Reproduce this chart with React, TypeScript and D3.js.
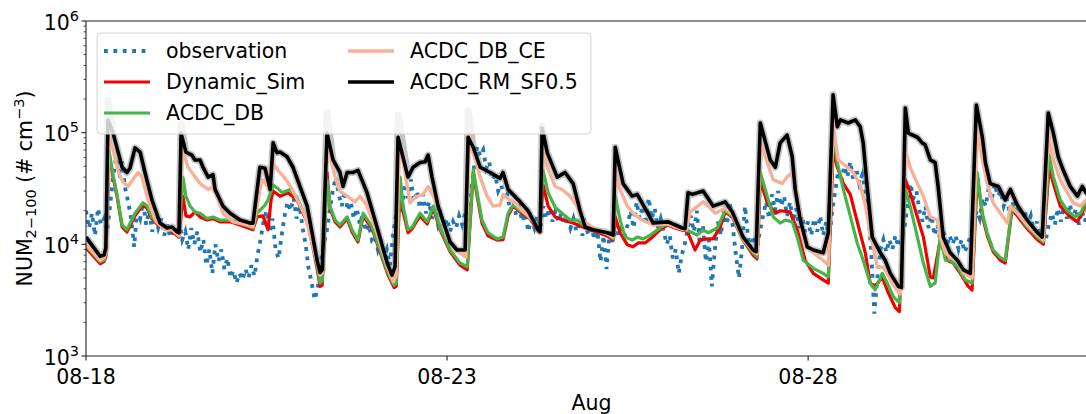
import React from 'react';
import * as d3 from 'd3';

const WIDTH = 1086;
const HEIGHT = 414;
const left = 86;
const top = 21;
const plotW = 1011; // 14 days
const plotH = 335;

// time axis: hours since 08-18 00:00
const xTickHours = [0, 120, 240];
const xTickLabels = ['08-18', '08-23', '08-28'];
const yTickExps = [3, 4, 5, 6];

// hourly observation (# cm-3)
const observation = [
  20e3, 14e3, 19e3, 12e3, 21e3, 15e3, 17e3, 13e3, 22e3, 40e3, 60e3, 45e3, 55e3, 32e3, 24e3, 17e3, 9.5e3, 20e3, 17e3, 24e3, 15e3, 20e3, 13e3, 18e3,
  14e3, 17e3, 12e3, 15e3, 11.5e3, 14e3, 12e3, 16e3, 11e3, 13e3, 9e3, 14e3, 10e3, 13e3, 8.5e3, 11e3, 6.5e3, 9e3, 5.5e3, 10e3, 7e3, 9e3, 6e3, 7.5e3,
  5e3, 5.8e3, 4.5e3, 5.5e3, 4.8e3, 6e3, 5e3, 6.5e3, 5.2e3, 8e3, 11e3, 16e3, 20e3, 13e3, 17e3, 9e3, 7.5e3, 12e3, 18e3, 24e3, 20e3, 26e3, 17e3, 22e3,
  14e3, 10e3, 6e3, 4.5e3, 3.2e3, 4e3, 7e3, 10e3, 13e3, 20e3, 30e3, 40e3, 28e3, 22e3, 30e3, 20e3, 24e3, 17e3, 21e3, 15e3, 19e3, 13e3, 15e3, 11e3,
  12e3, 9e3, 11e3, 7.5e3, 9e3, 6.5e3, 12e3, 18e3, 25e3, 19e3, 35e3, 26e3, 38e3, 24e3, 30e3, 21e3, 28e3, 19e3, 24e3, 17e3, 21e3, 15e3, 18e3, 14e3,
  17e3, 13e3, 16e3, 14e3, 18e3, 15e3, 19e3, 16e3, 30e3, 50e3, 75e3, 62e3, 70e3, 48e3, 55e3, 38e3, 42e3, 30e3, 34e3, 25e3, 28e3, 20e3, 24e3, 18e3,
  21e3, 16e3, 19e3, 13e3, 17e3, 14e3, 18e3, 14e3, 22e3, 17e3, 21e3, 16e3, 20e3, 16e3, 19e3, 15e3, 18e3, 14e3, 17e3, 13e3, 16e3, 12e3, 15e3, 12e3,
  14e3, 11e3, 13e3, 7e3, 12e3, 6e3, 13e3, 10.5e3, 15e3, 12e3, 14e3, 12e3, 15e3, 20e3, 14e3, 24e3, 17e3, 22e3, 15e3, 26e3, 17e3, 21e3, 14e3, 17e3,
  13e3, 10e3, 12e3, 7.5e3, 9e3, 5.5e3, 8e3, 10e3, 14e3, 18e3, 13e3, 20e3, 10e3, 15e3, 7e3, 11e3, 4.2e3, 9e3, 16e3, 12e3, 20e3, 15e3, 23e3, 14e3,
  8e3, 5e3, 9e3, 22e3, 12e3, 9e3, 12e3, 9.5e3, 13e3, 18e3, 24e3, 17e3, 28e3, 20e3, 30e3, 22e3, 27e3, 18e3, 24e3, 16e3, 21e3, 14e3, 18e3, 13e3,
  16e3, 12e3, 17e3, 13e3, 18e3, 12e3, 16e3, 11e3, 20e3, 30e3, 45e3, 36e3, 50e3, 40e3, 55e3, 38e3, 48e3, 35e3, 42e3, 30e3, 20e3, 8e3, 2.4e3, 5e3,
  9e3, 11e3, 8.5e3, 11e3, 9e3, 12e3, 9.5e3, 11e3, 14e3, 22e3, 35e3, 26e3, 30e3, 20e3, 16e3, 22e3, 14e3, 18e3, 12e3, 15e3, 10.5e3, 13e3, 9.5e3, 12e3,
  10e3, 12e3, 9e3, 11e3, 8.5e3, 10e3, 12e3, 15e3, 20e3, 17e3, 26e3, 22e3, 32e3, 25e3, 35e3, 27e3, 30e3, 22e3, 26e3, 19e3, 24e3, 18e3, 22e3, 17e3,
  20e3, 15e3, 18e3, 13e3, 16e3, 12e3, 14e3, 11e3, 15e3, 19e3, 15e3, 21e3, 16e3, 22e3, 17e3, 23e3, 17e3, 21e3, 15e3, 20e3, 16e3, 21e3, 17e3, 19e3,
];

// model runs: [hour, value]
const dynamicSim: [number, number][] = [
  [0, 9.3e3], [4.7, 6.7e3], [6.0, 7.0e3], [6.6, 7.8e3], [7.6, 6.6e4], [9.0, 4.0e4], [10.3, 2.7e4], [12.0, 1.43e4], [13.6, 1.29e4],
  [16.3, 1.8e4], [18.9, 2.25e4], [20.3, 2.1e4], [21.9, 1.7e4], [23.9, 1.49e4], [27.9, 1.35e4], [30.9, 1.16e4], [32.2, 2.7e4],
  [33.2, 1.8e4], [34.6, 1.76e4], [36.2, 1.95e4], [37.9, 1.76e4], [40.2, 1.65e4], [42.2, 1.7e4], [44.5, 1.59e4], [47.9, 1.59e4],
  [51.2, 1.49e4], [55.5, 1.35e4], [56.8, 1.76e4], [58.8, 1.8e4], [60.5, 1.35e4], [61.5, 2.5e4], [62.2, 3.0e4], [64.5, 2.7e4],
  [67.2, 2.9e4], [70.1, 2.5e4], [73.5, 1.59e4], [76.1, 7.9e3], [77.8, 4.2e3], [78.5, 4.3e3], [80.1, 4.4e4], [81.1, 2.1e4],
  [82.8, 1.59e4], [84.4, 1.43e4], [86.8, 1.7e4], [88.4, 1.29e4], [90.4, 1.05e4], [92.1, 1.8e4], [95.1, 1.38e4], [97.7, 8.6e3],
  [100.4, 5.3e3], [102.4, 4.1e3], [103.1, 4.2e3], [104.4, 3.6e4], [105.4, 1.95e4], [107.0, 1.27e4], [108.4, 1.38e4], [111.0, 1.8e4],
  [113.4, 1.52e4], [115.4, 2.1e4], [117.7, 1.35e4], [121.0, 8.6e3], [124.3, 6.5e3], [126.7, 5.9e3], [128.7, 4.4e4], [130.0, 2.7e4],
  [131.6, 1.55e4], [133.6, 1.19e4], [136.6, 1.09e4], [138.6, 1.1e4], [140.3, 1.8e4], [142.0, 2.2e4], [144.3, 1.95e4], [147.6, 1.7e4],
  [150.6, 1.29e4], [151.9, 3.4e4], [153.6, 2.2e4], [155.9, 1.76e4], [158.5, 1.65e4], [161.9, 1.55e4], [165.2, 1.43e4], [168.6, 1.32e4],
  [173.2, 1.19e4], [175.2, 1.09e4], [175.9, 1.76e4], [177.5, 1.27e4], [179.9, 9.9e3], [181.8, 9.5e3], [183.5, 1.03e4], [185.8, 1.03e4],
  [188.2, 1.16e4], [190.8, 1.35e4], [193.2, 1.49e4], [197.5, 1.35e4], [199.8, 1.32e4], [202.4, 8.9e3], [204.1, 1.09e4], [206.4, 1.12e4],
  [208.4, 1.12e4], [210.8, 1.43e4], [212.4, 1.95e4], [214.8, 1.76e4], [218.4, 1.09e4], [221.7, 8.0e3], [223.0, 7.4e3], [224.1, 3.8e4],
  [226.4, 2.35e4], [229.1, 1.9e4], [230.7, 2.0e4], [234.0, 1.95e4], [236.4, 1.35e4], [239.0, 7.2e3], [241.7, 5.5e3], [245.0, 4.8e3],
  [246.7, 4.5e3], [248.3, 7.0e4], [249.7, 4.9e4], [251.7, 3.5e4], [254.0, 2.8e4], [256.6, 1.49e4], [259.0, 8.4e3], [260.6, 4.5e3],
  [262.3, 4.2e3], [264.6, 5.1e3], [266.6, 3.7e3], [269.0, 2.7e3], [270.3, 2.5e3], [272.3, 3.8e4], [273.9, 2.9e4], [276.3, 1.76e4],
  [278.3, 1.16e4], [280.6, 5.1e3], [281.6, 5.0e3], [283.9, 1.09e4], [286.2, 7.2e3], [288.2, 6.8e3], [290.6, 5.5e3], [293.2, 4.2e3],
  [294.5, 3.9e3], [296.2, 4.1e4], [297.9, 1.8e4], [299.5, 1.21e4], [301.5, 8.6e3], [303.9, 7.2e3], [305.5, 6.8e3], [307.8, 2.1e4],
  [309.5, 1.8e4], [312.8, 1.38e4], [316.2, 1.1e4], [318.2, 1.0e4], [320.1, 4.9e4], [321.5, 3.5e4], [323.8, 2.2e4], [327.1, 1.76e4],
  [329.5, 1.59e4], [332.1, 2.2e4], [335.7, 2.0e4],
];

const acdcDb: [number, number][] = [
  [0, 9.7e3], [4.7, 7.0e3], [6.0, 7.2e3], [6.6, 8.2e3], [7.6, 7.0e4], [9.0, 4.2e4], [10.3, 2.8e4], [12.0, 1.49e4], [13.6, 1.35e4],
  [16.3, 1.9e4], [18.9, 2.35e4], [20.3, 2.2e4], [21.9, 1.76e4], [23.9, 1.55e4], [27.9, 1.4e4], [30.9, 1.21e4], [32.2, 4.0e4],
  [33.2, 2.7e4], [34.6, 2.2e4], [36.2, 1.95e4], [37.9, 1.9e4], [40.2, 1.7e4], [42.2, 1.76e4], [44.5, 1.65e4], [47.9, 1.65e4],
  [51.2, 1.55e4], [55.5, 1.4e4], [56.8, 1.9e4], [59.5, 2.25e4], [60.5, 2.5e4], [62.2, 3.4e4], [63.5, 3.2e4], [65.2, 2.9e4],
  [67.8, 3.1e4], [70.1, 2.65e4], [73.5, 1.65e4], [76.1, 8.4e3], [77.8, 4.5e3], [78.5, 4.7e3], [80.1, 3.8e4], [81.1, 2.2e4],
  [82.8, 1.65e4], [84.4, 1.49e4], [86.8, 1.76e4], [88.4, 1.35e4], [90.4, 1.09e4], [92.1, 1.9e4], [95.1, 1.43e4], [97.7, 8.9e3],
  [100.4, 5.5e3], [102.4, 4.3e3], [103.1, 4.5e3], [104.4, 4.0e4], [105.4, 2.2e4], [107.0, 1.35e4], [108.4, 1.43e4], [111.0, 1.9e4],
  [113.4, 1.59e4], [115.4, 2.2e4], [117.7, 1.4e4], [121.0, 8.9e3], [124.3, 6.8e3], [126.7, 6.3e3], [128.7, 4.7e4], [130.0, 2.9e4],
  [131.6, 1.65e4], [133.6, 1.27e4], [136.6, 1.12e4], [138.6, 1.16e4], [140.3, 1.9e4], [142.0, 2.25e4], [144.3, 2.0e4], [147.6, 1.76e4],
  [150.6, 1.35e4], [151.9, 4.6e4], [153.6, 2.9e4], [155.9, 2.15e4], [158.2, 1.9e4], [160.9, 1.65e4], [163.2, 1.65e4], [165.2, 1.49e4],
  [168.6, 1.35e4], [173.2, 1.24e4], [175.2, 1.12e4], [175.9, 2.7e4], [177.5, 1.65e4], [179.2, 1.16e4], [181.5, 1.09e4], [183.2, 1.16e4],
  [185.2, 1.12e4], [187.5, 1.21e4], [190.8, 1.4e4], [193.2, 1.55e4], [197.5, 1.38e4], [199.5, 1.35e4], [201.5, 1.27e4], [203.1, 1.21e4],
  [205.1, 1.35e4], [206.8, 1.27e4], [209.8, 1.4e4], [212.4, 2.0e4], [214.8, 1.8e4], [218.4, 1.1e4], [221.7, 8.4e3], [223.0, 7.7e3],
  [224.1, 4.4e4], [226.4, 2.7e4], [228.4, 1.76e4], [230.7, 1.55e4], [232.4, 1.65e4], [234.7, 1.59e4], [236.4, 1.16e4], [238.4, 7.2e3],
  [241.7, 6.1e3], [245.0, 5.5e3], [246.7, 5.1e3], [248.3, 1.0e5], [249.7, 5.4e4], [251.7, 3.1e4], [254.0, 1.8e4], [256.3, 1.03e4],
  [258.3, 7.2e3], [260.6, 4.5e3], [262.3, 3.9e3], [264.6, 5.5e3], [266.3, 4.5e3], [268.3, 3.4e3], [270.3, 3.0e3], [272.3, 3.1e4],
  [273.9, 2.2e4], [276.3, 1.16e4], [278.3, 6.8e3], [280.6, 4.2e3], [282.2, 4.5e3], [283.9, 1.16e4], [285.6, 7.2e3], [287.2, 7.2e3],
  [289.6, 6.3e3], [292.2, 4.8e3], [294.5, 4.5e3], [296.2, 4.4e4], [297.9, 1.9e4], [299.5, 1.27e4], [301.5, 8.9e3], [303.9, 7.6e3],
  [305.5, 7.2e3], [307.8, 2.2e4], [309.5, 1.9e4], [312.8, 1.43e4], [316.2, 1.16e4], [318.2, 1.05e4], [320.1, 6.3e4], [321.5, 4.0e4],
  [323.8, 2.5e4], [326.1, 2.0e4], [328.8, 1.76e4], [330.5, 1.9e4], [332.4, 2.4e4], [335.7, 2.2e4],
];

const acdcDbCe: [number, number][] = [
  [0, 1.0e4], [4.7, 7.2e3], [6.0, 7.6e3], [6.6, 8.6e3], [7.6, 9.5e4], [9.0, 7.0e4], [10.6, 4.6e4], [12.3, 3.6e4], [14.0, 3.3e4],
  [15.6, 3.8e4], [17.3, 4.4e4], [18.6, 4.0e4], [20.6, 2.5e4], [23.3, 1.59e4], [26.3, 1.35e4], [28.6, 1.35e4], [30.9, 1.19e4],
  [31.9, 7.4e4], [33.9, 4.9e4], [37.9, 3.5e4], [40.6, 3.1e4], [42.2, 3.3e4], [43.6, 2.7e4], [45.5, 1.9e4], [48.9, 1.59e4],
  [53.5, 1.49e4], [55.5, 1.43e4], [57.2, 2.5e4], [58.5, 3.8e4], [60.5, 3.3e4], [61.8, 5.5e4], [63.8, 4.6e4], [66.2, 3.9e4],
  [68.5, 3.1e4], [72.8, 1.8e4], [76.8, 6.9e3], [77.8, 5.3e3], [78.5, 5.6e3], [80.1, 8.6e4], [81.1, 6.1e4], [82.8, 4.0e4],
  [84.4, 3.0e4], [86.8, 2.7e4], [89.4, 2.4e4], [91.1, 2.7e4], [93.4, 2.2e4], [96.7, 1.27e4], [100.1, 6.3e3], [102.1, 4.6e3],
  [103.1, 5.3e3], [104.1, 8.6e4], [105.4, 5.4e4], [107.7, 2.35e4], [109.4, 2.65e4], [112.0, 2.8e4], [113.7, 3.3e4], [115.4, 2.7e4],
  [117.7, 1.9e4], [120.0, 1.16e4], [122.7, 8.9e3], [126.3, 7.7e3], [127.3, 9.5e4], [128.7, 6.6e4], [131.0, 4.0e4], [133.3, 2.7e4],
  [135.3, 2.2e4], [137.6, 2.25e4], [138.6, 2.8e4], [140.0, 2.6e4], [142.0, 2.4e4], [145.0, 2.0e4], [148.3, 1.65e4], [150.6, 1.35e4],
  [151.6, 7.4e4], [153.3, 4.9e4], [155.9, 3.3e4], [158.2, 3.1e4], [160.9, 2.7e4], [163.2, 2.2e4], [165.2, 1.65e4], [168.6, 1.4e4],
  [173.2, 1.24e4], [175.2, 1.16e4], [175.9, 4.4e4], [177.5, 3.1e4], [179.9, 2.2e4], [181.8, 1.9e4], [184.8, 1.65e4], [188.5, 1.49e4],
  [193.2, 1.52e4], [197.5, 1.38e4], [199.5, 1.35e4], [200.8, 1.95e4], [205.1, 2.4e4], [206.8, 2.2e4], [209.1, 1.9e4], [212.4, 2.1e4],
  [214.8, 1.85e4], [218.4, 1.12e4], [221.7, 8.7e3], [223.0, 8.2e3], [224.1, 8.3e4], [226.4, 5.4e4], [228.4, 3.8e4], [231.4, 3.5e4],
  [233.0, 4.0e4], [234.7, 4.4e4], [236.4, 2.7e4], [238.4, 1.16e4], [241.7, 8.4e3], [245.0, 7.2e3], [246.7, 6.5e3], [248.3, 1.17e5],
  [250.0, 5.7e4], [253.0, 4.9e4], [255.0, 4.4e4], [257.3, 3.4e4], [259.0, 2.25e4], [260.6, 1.27e4], [263.0, 6.3e3], [265.0, 6.2e3],
  [266.6, 5.3e3], [268.3, 4.3e3], [270.6, 3.6e3], [272.3, 7.0e4], [273.9, 4.9e4], [276.3, 3.5e4], [278.3, 2.7e4], [280.6, 1.76e4],
  [282.9, 1.65e4], [283.9, 1.16e4], [285.6, 8.4e3], [287.2, 7.6e3], [289.6, 7.2e3], [291.6, 5.5e3], [294.5, 5.0e3], [296.2, 1.06e5],
  [297.9, 5.7e4], [299.5, 3.5e4], [301.5, 2.35e4], [303.9, 1.9e4], [306.2, 1.55e4], [307.2, 2.2e4], [309.5, 1.9e4], [312.8, 1.49e4],
  [316.2, 1.21e4], [318.2, 1.09e4], [319.8, 9.5e4], [321.5, 5.7e4], [323.8, 3.8e4], [326.1, 2.9e4], [328.1, 2.35e4], [330.5, 2.2e4],
  [332.4, 2.5e4], [335.7, 2.25e4],
];

const acdcRmSf05: [number, number][] = [
  [0, 1.16e4], [4.7, 7.8e3], [6.0, 8.0e3], [6.6, 9.3e3], [7.3, 1.3e5], [9.0, 9.9e4], [12.0, 4.9e4], [13.6, 4.4e4], [14.6, 4.8e4],
  [16.3, 7.3e4], [18.0, 6.7e4], [19.6, 4.4e4], [21.9, 2.5e4], [24.6, 1.55e4], [26.9, 1.4e4], [28.6, 1.43e4], [30.3, 1.29e4],
  [30.9, 1.27e4], [31.6, 9.9e4], [33.2, 6.7e4], [35.2, 6.3e4], [36.2, 5.7e4], [37.9, 5.7e4], [38.9, 4.9e4], [40.6, 4.0e4],
  [42.2, 4.2e4], [42.9, 3.1e4], [45.5, 2.2e4], [47.9, 1.9e4], [51.2, 1.65e4], [54.5, 1.55e4], [55.5, 1.55e4], [57.8, 4.9e4],
  [59.5, 4.8e4], [61.2, 3.1e4], [62.2, 8.1e4], [63.5, 6.6e4], [64.5, 6.7e4], [66.8, 6.1e4], [68.8, 4.9e4], [73.5, 2.2e4],
  [76.8, 7.2e3], [77.8, 5.6e3], [78.5, 5.9e3], [80.1, 9.9e4], [82.1, 5.7e4], [84.4, 4.4e4], [85.4, 3.3e4], [86.8, 4.4e4],
  [88.8, 4.4e4], [90.4, 4.6e4], [93.4, 2.9e4], [96.7, 1.43e4], [100.1, 6.8e3], [101.7, 5.3e3], [102.7, 6.3e3], [103.7, 9.1e4],
  [107.0, 4.0e4], [108.7, 4.9e4], [111.0, 5.4e4], [112.7, 5.5e4], [113.7, 6.3e4], [115.0, 4.0e4], [117.0, 2.2e4], [121.0, 1.05e4],
  [123.3, 8.9e3], [126.0, 8.9e3], [127.0, 9.1e4], [128.7, 7.4e4], [131.0, 4.9e4], [134.3, 4.4e4], [137.6, 3.9e4], [138.6, 4.4e4],
  [140.3, 3.1e4], [144.3, 2.4e4], [146.9, 2.0e4], [150.3, 1.35e4], [150.9, 1.3e4], [151.6, 1.1e5], [153.3, 6.6e4], [156.6, 4.0e4],
  [159.2, 4.4e4], [161.9, 3.5e4], [164.2, 2.0e4], [165.9, 1.43e4], [168.6, 1.35e4], [173.2, 1.27e4], [175.2, 1.21e4], [175.9, 7.4e4],
  [178.5, 3.5e4], [181.5, 2.7e4], [183.2, 2.8e4], [186.5, 1.95e4], [188.5, 1.55e4], [193.5, 1.59e4], [198.1, 1.4e4], [199.1, 1.38e4],
  [200.1, 2.9e4], [201.5, 2.8e4], [205.1, 3.0e4], [208.4, 2.2e4], [212.4, 2.4e4], [214.8, 1.95e4], [218.4, 1.16e4], [221.7, 8.9e3],
  [222.7, 8.6e3], [224.1, 1.22e5], [227.4, 5.7e4], [229.1, 4.9e4], [230.7, 8.1e4], [233.0, 9.5e4], [234.7, 6.1e4], [235.7, 3.1e4],
  [237.4, 1.65e4], [239.7, 9.5e3], [241.7, 8.9e3], [245.0, 8.4e3], [246.7, 1.27e4], [248.3, 2.18e5], [249.7, 1.13e5], [250.7, 1.3e5],
  [253.3, 1.22e5], [255.7, 1.3e5], [257.3, 1.13e5], [258.3, 8.1e4], [259.6, 3.3e4], [261.3, 1.16e4], [264.0, 8.4e3], [265.6, 7.2e3],
  [267.3, 5.5e3], [270.0, 4.2e3], [271.0, 4.1e3], [272.3, 1.66e5], [273.3, 9.9e4], [276.3, 9.1e4], [277.9, 8.1e4], [278.9, 7.8e4],
  [280.6, 5.7e4], [282.2, 5.4e4], [283.2, 3.3e4], [284.9, 1.16e4], [287.2, 8.4e3], [289.6, 7.2e3], [291.6, 5.9e3], [293.9, 5.5e3],
  [295.9, 1.77e5], [297.9, 9.1e4], [298.9, 5.4e4], [300.5, 3.5e4], [303.2, 3.3e4], [305.5, 2.5e4], [307.2, 3.1e4], [309.5, 2.25e4],
  [312.8, 1.65e4], [316.2, 1.27e4], [317.8, 1.16e4], [319.8, 1.5e5], [321.5, 9.9e4], [323.1, 6.1e4], [324.8, 4.6e4], [327.1, 3.3e4],
  [329.5, 2.7e4], [331.1, 3.3e4], [332.4, 2.9e4], [335.7, 2.5e4],
];

// faint gray run, hidden under the black one except at these peaks
const grayPeaks: [number, number][] = [
  [7.3, 1.95e5], [31.6, 1.2e5], [80.1, 1.5e5], [103.7, 1.44e5], [127.0, 1.56e5], [151.6, 1.15e5],
];

const OBS_DASH = '3.8 5.6';

const legendItems = [
  { label: 'observation', color: '#1f77b4', dotted: true, width: 3.8, col: 0, row: 0 },
  { label: 'Dynamic_Sim', color: '#f00000', dotted: false, width: 3.2, col: 0, row: 1 },
  { label: 'ACDC_DB', color: '#46b446', dotted: false, width: 3.2, col: 0, row: 2 },
  { label: 'ACDC_DB_CE', color: '#f8b196', dotted: false, width: 3.4, col: 1, row: 0 },
  { label: 'ACDC_RM_SF0.5', color: '#000000', dotted: false, width: 3.6, col: 1, row: 1 },
];

const FONT = 'DejaVu Sans, sans-serif';

export default function App() {
  const x = d3.scaleLinear().domain([0, 336]).range([left, left + plotW]);
  const y = d3.scaleLog().domain([1e3, 1e6]).range([top + plotH, top]);

  const line = d3
    .line<[number, number]>()
    .x((d) => x(d[0]))
    .y((d) => y(d[1]));

  const obsPoints: [number, number][] = observation.map((v, i) => [i, v]);
  const grayLine: [number, number][] = acdcRmSf05.map(([h, v]) => {
    const p = grayPeaks.find((g) => g[0] === h);
    return [h, p ? p[1] : v];
  });

  const minorTicks: number[] = [];
  for (let e = 3; e < 6; e++) {
    for (let m = 2; m <= 9; m++) minorTicks.push(m * Math.pow(10, e));
  }

  const legX = [104, 348];
  const legTextX = [166, 410];
  const legY = [51, 82, 113];

  return (
    <svg
      width={WIDTH}
      height={HEIGHT}
      style={{ position: 'absolute', left: 0, top: 0, background: '#fff' }}
      fontFamily={FONT}
    >
      <defs>
        <clipPath id="plot-clip">
          <rect x={left} y={top} width={plotW} height={plotH} />
        </clipPath>
      </defs>

      <g clipPath="url(#plot-clip)" fill="none" strokeLinejoin="round">
        <path d={line(grayLine) || ''} stroke="#c4c4c4" strokeWidth={7} />
        <path
          d={line(obsPoints) || ''}
          stroke="#1f77b4"
          strokeWidth={3.8}
          strokeDasharray={OBS_DASH}
          strokeLinejoin="miter"
        />
        <path d={line(dynamicSim) || ''} stroke="#f00000" strokeWidth={3.2} />
        <path d={line(acdcDb) || ''} stroke="#46b446" strokeWidth={3.2} />
        <path d={line(acdcDbCe) || ''} stroke="#f8b196" strokeWidth={3.4} />
        <path d={line(acdcRmSf05) || ''} stroke="#000" strokeWidth={3.6} />
      </g>

      {/* spines */}
      <g stroke="#222" strokeWidth={1.1}>
        <line x1={left} x2={left} y1={top} y2={top + plotH} />
        <line x1={left} x2={WIDTH} y1={top + plotH} y2={top + plotH} />
        <line x1={left} x2={WIDTH} y1={top} y2={top} />
      </g>

      {/* y axis */}
      {minorTicks.map((v) => (
        <line key={v} x1={left - 2.5} x2={left} y1={y(v)} y2={y(v)} stroke="#222" strokeWidth={0.8} />
      ))}
      {yTickExps.map((e) => (
        <g key={e}>
          <line x1={left - 4.5} x2={left} y1={y(Math.pow(10, e))} y2={y(Math.pow(10, e))} stroke="#222" strokeWidth={1.1} />
          <text x={79} y={y(Math.pow(10, e)) + 8.5} textAnchor="end" fontSize={20.5} fill="#000">
            10<tspan fontSize={14.5} dy={-9}>{e}</tspan>
          </text>
        </g>
      ))}
      <text transform={`translate(32,${top + plotH / 2}) rotate(-90)`} textAnchor="middle" fontSize={20.5} fill="#000">
        NUM<tspan fontSize={14.5} dy={4}>2−100</tspan>
        <tspan dy={-4}> (# cm</tspan>
        <tspan fontSize={14.5} dy={-8}>−3</tspan>
        <tspan dy={8}>)</tspan>
      </text>

      {/* x axis */}
      {xTickHours.map((h, i) => (
        <g key={h}>
          <line x1={x(h)} x2={x(h)} y1={top + plotH} y2={top + plotH + 4.5} stroke="#222" strokeWidth={1.1} />
          <text x={x(h)} y={384} textAnchor="middle" fontSize={20.5} fill="#000">
            {xTickLabels[i]}
          </text>
        </g>
      ))}
      <text x={left + plotW / 2} y={410} textAnchor="middle" fontSize={20.5} fill="#000">
        Aug
      </text>

      {/* legend */}
      <rect x={97} y={33} width={494} height={101} rx={4} fill="#fff" fillOpacity={0.8} stroke="#d4d4d4" strokeWidth={1} />
      {legendItems.map((it) => (
        <g key={it.label}>
          <line
            x1={legX[it.col]}
            x2={legX[it.col] + 46}
            y1={legY[it.row]}
            y2={legY[it.row]}
            stroke={it.color}
            strokeWidth={it.width}
            strokeDasharray={it.dotted ? OBS_DASH : undefined}
          />
          <text x={legTextX[it.col]} y={legY[it.row] + 7} fontSize={20.5} fill="#000">
            {it.label}
          </text>
        </g>
      ))}
    </svg>
  );
}
